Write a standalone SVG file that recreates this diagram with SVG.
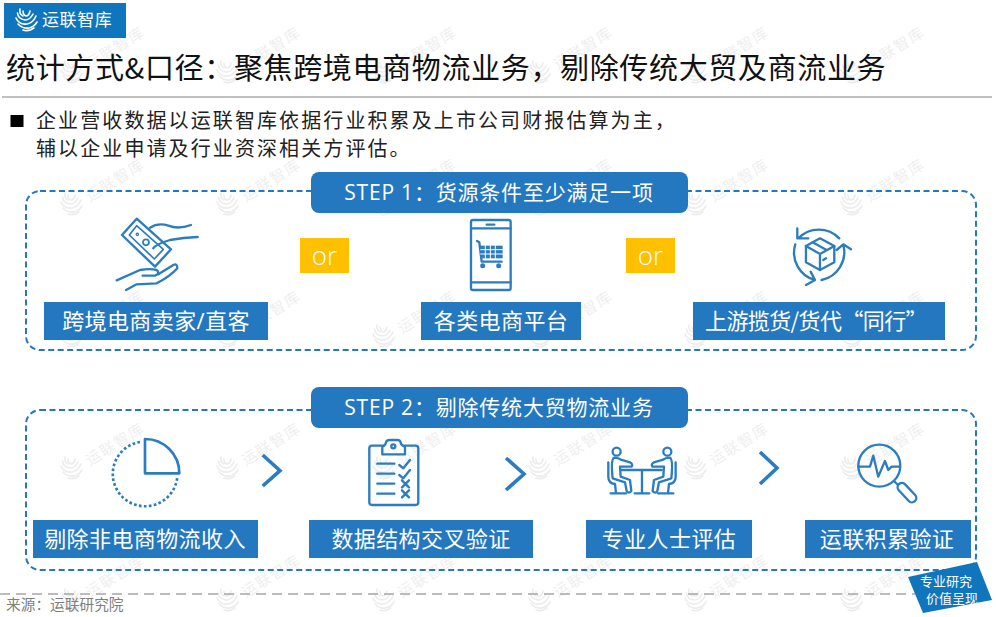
<svg xmlns="http://www.w3.org/2000/svg" xmlns:xlink="http://www.w3.org/1999/xlink" width="996" height="617" viewBox="0 0 996 617">
<style>
text{font-family:"Open Sans","Noto Sans CJK SC",sans-serif}
.lab{fill:#2378bf}
.lt{fill:#fff;font-size:22px;text-anchor:middle;letter-spacing:.4px}
.step{fill:#fff;font-size:21px;text-anchor:middle;letter-spacing:.8px}
.dash{fill:none;stroke:#2378bf;stroke-width:2;stroke-dasharray:6 3.5}
.orb{fill:#ffc000}
.ort{fill:#fff;font-size:26px;text-anchor:middle;font-weight:300}
.ic{fill:none;stroke:#2b7dc0;stroke-width:7;stroke-linecap:round;stroke-linejoin:round}
.wm{fill:#efefef;font-size:15px;letter-spacing:1.500px}
.sw{fill:none;stroke-width:1.600;stroke-linecap:round}
.chev{fill:none;stroke:#2b7dc0;stroke-width:3.600}
.cjk{font-family:"Noto Sans CJK SC",sans-serif}
</style>
<defs>
<g id="swirl" class="sw">
<path d="M4 1Q3 6 7 8"/><path d="M1.500 5Q2 11 9 12Q14 12 17 6"/><path d="M0 10Q3 17 11 16Q17 15 20 8"/><path d="M2 16Q7 21 13 20Q18 19 21 14"/><path d="M7 22Q12 24 18 20"/><path d="M7 3Q7 7 10 8Q13 8 14 3"/>
</g>
<g id="wmk"><use xlink:href="#swirl" stroke="#ececec" x="-11" y="-12"/><text class="wm" transform="translate(18,-2) rotate(-32)">运联智库</text></g>
</defs>
<rect width="996" height="617" fill="#fff"/>
<g id="watermarks">
<use xlink:href="#wmk" x="72" y="72"/><use xlink:href="#wmk" x="228" y="72"/><use xlink:href="#wmk" x="384" y="72"/><use xlink:href="#wmk" x="540" y="72"/><use xlink:href="#wmk" x="696" y="72"/><use xlink:href="#wmk" x="852" y="72"/>
<use xlink:href="#wmk" x="72" y="204"/><use xlink:href="#wmk" x="228" y="204"/><use xlink:href="#wmk" x="384" y="204"/><use xlink:href="#wmk" x="540" y="204"/><use xlink:href="#wmk" x="696" y="204"/><use xlink:href="#wmk" x="852" y="204"/>
<use xlink:href="#wmk" x="72" y="336"/><use xlink:href="#wmk" x="228" y="336"/><use xlink:href="#wmk" x="384" y="336"/><use xlink:href="#wmk" x="540" y="336"/><use xlink:href="#wmk" x="696" y="336"/><use xlink:href="#wmk" x="852" y="336"/>
<use xlink:href="#wmk" x="72" y="468"/><use xlink:href="#wmk" x="228" y="468"/><use xlink:href="#wmk" x="384" y="468"/><use xlink:href="#wmk" x="540" y="468"/><use xlink:href="#wmk" x="696" y="468"/><use xlink:href="#wmk" x="852" y="468"/>
<use xlink:href="#wmk" x="72" y="600"/><use xlink:href="#wmk" x="228" y="600"/><use xlink:href="#wmk" x="384" y="600"/><use xlink:href="#wmk" x="540" y="600"/><use xlink:href="#wmk" x="696" y="600"/><use xlink:href="#wmk" x="852" y="600"/>
</g>
<g id="logo"><rect x="4" y="3" width="122" height="35" fill="#0f75bc"/><use xlink:href="#swirl" stroke="#fff" x="16" y="8"/><text x="42" y="26" fill="#fff" font-size="17" letter-spacing=".6">运联智库</text></g>
<g id="title"><text x="6" y="79" font-size="29" fill="#111" letter-spacing=".65" class="cjk">统计方式&amp;口径：聚焦跨境电商物流业务，剔除传统大贸及商流业务</text><rect x="2" y="96" width="990" height="2" fill="#bfbfbf"/></g>
<g id="intro"><rect x="10.500" y="115" width="13" height="12" fill="#000"/>
<text x="36" y="128" font-size="20" fill="#222" letter-spacing="2.100">企业营收数据以运联智库依据行业积累及上市公司财报估算为主，</text>
<text x="36" y="156" font-size="20" fill="#222" letter-spacing="2.100">辅以企业申请及行业资深相关方评估。</text></g>
<g id="frames"><rect class="dash" x="26" y="191" width="950" height="159" rx="14"/><rect class="dash" x="26" y="410" width="950" height="160" rx="14"/></g>
<g id="step1"><rect class="lab" x="311" y="172" width="377" height="41" rx="8"/><text class="step" x="499" y="200">STEP 1：货源条件至少满足一项</text></g>
<g id="step2"><rect class="lab" x="311" y="387" width="377" height="41" rx="8"/><text class="step" x="499" y="415">STEP 2：剔除传统大贸物流业务</text></g>
<g id="or1"><rect class="orb" x="300" y="238" width="49" height="35"/><text class="ort" x="324.500" y="265">or</text></g>
<g id="or2"><rect class="orb" x="626" y="238" width="49" height="35"/><text class="ort" x="650.500" y="265">or</text></g>
<g id="seller">
<g transform="translate(90,205) scale(.3333)" class="ic">
<path d="M140 41L96 90L195 185L243 133Z"/><path d="M140 62L118 90L193 162L220 133Z" stroke-width="5"/><circle cx="168" cy="112" r="9" stroke-width="5"/><circle cx="142" cy="88" r="2"/>
<path d="M180 68Q205 52 235 62Q265 74 303 60"/><path d="M190 130Q196 118 240 105Q280 98 323 96"/>
<path d="M80 226L150 195Q180 190 200 195Q212 205 195 212L158 212"/><path d="M205 208L250 180Q262 174 262 190Q240 215 200 235L140 238L108 255"/>
</g>
<rect class="lab" x="44" y="302" width="224" height="38"/><text class="lt" x="156" y="329">跨境电商卖家/直客</text></g>
<g id="platform">
<g transform="translate(440,205) scale(.3333)" class="ic">
<rect x="93" y="45" width="119" height="210" rx="6"/><path d="M93 70H212M93 232H212M140 59H163"/>
<path d="M111 108L118 112L125 170H185"/><rect x="122" y="122" width="66" height="38" fill="#2b7dc0" stroke="none"/>
<path d="M136 122V160M151 122V160M166 122V160M122 134H188M122 147H188" stroke="#fff" stroke-width="3"/>
<circle cx="128" cy="182" r="4"/><circle cx="176" cy="182" r="4"/>
</g>
<rect class="lab" x="421" y="302" width="160" height="38"/><text class="lt" x="501" y="329">各类电商平台</text></g>
<g id="peers">
<g transform="translate(440,205) scale(.3333)" class="ic">
<path d="M1140 100L1183 123V172L1140 195L1098 172V123Z"/><path d="M1098 123L1140 147L1183 123M1140 147V195M1118 112L1160 135"/><path d="M1150 165L1158 160"/>
<path d="M1198 100A85 85 0 0 0 1075 100M1072 70V100H1105"/>
<path d="M1066 118A85 85 0 0 0 1125 225M1112 200L1125 225L1098 240"/>
<path d="M1145 225A85 85 0 0 0 1210 120M1190 135L1210 118L1233 133"/>
</g>
<rect class="lab" x="693" y="302" width="252" height="38"/><text x="816" y="329" class="lt cjk" style="letter-spacing:-.6px">上游揽货/货代“同行”</text></g>
<g id="noncommerce">
<g transform="translate(90,425) scale(.3333)" class="ic">
<path d="M150 51A97 97 0 1 0 262 155" stroke-width="8" stroke-dasharray="8 7" stroke-linecap="butt"/>
<path d="M165 42A103 103 0 0 1 268 145H165Z" stroke-width="8"/>
</g>
<rect class="lab" x="33" y="520" width="225" height="38"/><text class="lt" x="145" y="547">剔除非电商物流收入</text></g>
<g id="crosscheck">
<g transform="translate(90,425) scale(.3333)" class="ic">
<rect x="838" y="62" width="147" height="178" rx="8"/>
<path d="M877 88V66Q888 60 888 52Q890 45 900 45H922Q930 45 932 52Q932 60 945 66V88Z" fill="#fff"/><circle cx="910" cy="64" r="6"/>
<path d="M862 116H913M862 146H913M862 176H913M862 206H913"/>
<path d="M928 120L940 130L960 105M928 150L940 160L960 135M936 166L957 187M957 166L936 187M936 196L957 217M957 196L936 217"/>
</g>
<rect class="lab" x="309" y="520" width="224" height="38"/><text class="lt" x="421" y="547">数据结构交叉验证</text></g>
<g id="experts">
<g transform="translate(490,425) scale(.3333)" class="ic" stroke-linecap="butt">
<circle cx="380" cy="80" r="12"/><circle cx="532" cy="80" r="12"/>
<path d="M395 135H515M456 135V205M434 205H478"/>
<path d="M355 112V155Q355 175 375 177L378 205M362 205H408"/><path d="M372 98Q362 105 368 160L405 172L410 198Q416 208 424 198L420 165L392 155L390 125H425Q430 118 420 112L395 105Q385 98 372 98Z"/>
<g transform="translate(912,0) scale(-1,1)"><path d="M355 112V155Q355 175 375 177L378 205M362 205H408"/><path d="M372 98Q362 105 368 160L405 172L410 198Q416 208 424 198L420 165L392 155L390 125H425Q430 118 420 112L395 105Q385 98 372 98Z"/></g>
</g>
<rect class="lab" x="586" y="520" width="166" height="38"/><text class="lt" x="669" y="547">专业人士评估</text></g>
<g id="verify">
<g transform="translate(490,425) scale(.3333)" class="ic">
<circle cx="1168" cy="122" r="63"/><path d="M1105 125H1140L1150 92L1165 155L1185 108L1195 135L1205 125H1230M1212 168L1224 180"/>
<rect x="1216" y="190" width="70" height="26" rx="13" transform="rotate(47 1251 203)"/>
</g>
<rect class="lab" x="805" y="520" width="166" height="38"/><text class="lt" x="887" y="547">运联积累验证</text></g>
<g id="connectors" class="chev"><path d="M262.700 455L280 470.700L262.700 486"/><path d="M506 458L524 474L506 490"/><path d="M760 452L777 468L760 484"/></g>
<g id="footer"><path d="M0 594H915" stroke="#a6a6a6" stroke-width="1.500" stroke-dasharray="10 6"/><text x="6" y="610" font-size="14.700" fill="#7f7f7f">来源：运联研究院</text>
<polygon points="977,562 908,577 923,613 992,600" fill="#0f75bc"/><text x="920" y="586" font-size="13" fill="#fff">专业研究</text><text x="926" y="603" font-size="13" fill="#fff">价值呈现</text></g>
</svg>
